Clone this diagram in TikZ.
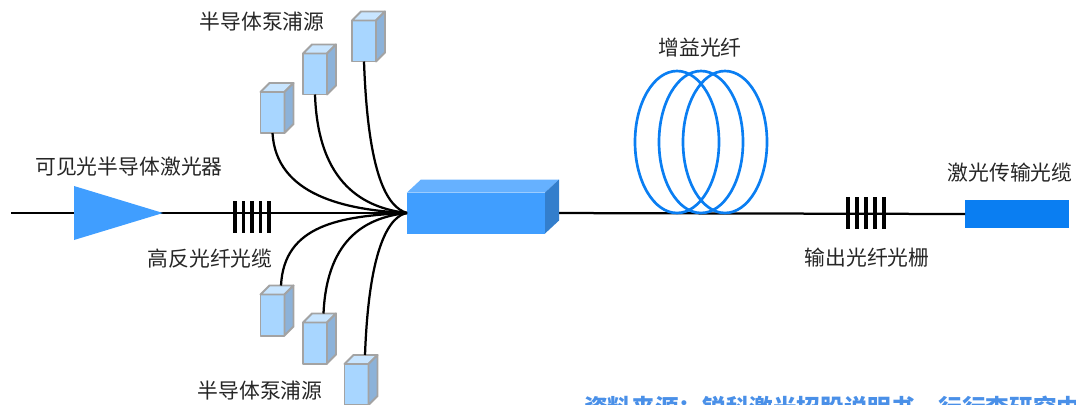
\documentclass[tikz,border=0pt]{standalone}
\usepackage{fontspec}
\setmainfont{Noto Sans CJK SC}
\usepackage{xcolor}
\usepackage{tikz}
\usetikzlibrary{calc}

\definecolor{ldblue}{HTML}{409EFF}
\definecolor{ldtop}{HTML}{66B1FF}
\definecolor{ldside}{HTML}{337ECC}
\definecolor{pumpfront}{HTML}{A8D6FF}
\definecolor{pumptop}{HTML}{C8E5FF}
\definecolor{pumpside}{HTML}{8CB2D9}
\definecolor{pumpedge}{HTML}{A3A3A3}
\definecolor{coilblue}{HTML}{0A7EF2}
\definecolor{srcblue}{HTML}{4A90E8}

\begin{document}
\begin{tikzpicture}[x=0.025cm,y=-0.025cm,
  fiber/.style={line width=1.6pt},
  bar/.style={line width=2.4pt},
  coil/.style={coilblue,line width=1.9pt},
  lbl/.style={font=\fontsize{14.8}{16}\selectfont,text=black!85},
  face/.style={draw=pumpedge,line width=1.4pt,line join=round},
  pump/.style={face,fill=pumpfront,minimum width=0.6cm,minimum height=1.025cm,inner sep=0pt,outer sep=0pt}]

  \useasboundingbox (0,0) rectangle (1076,404);

  % fibre line, combiner, output cable
  \coordinate (src) at (11,213);
  \node[fill=ldblue,minimum width=3.45cm,minimum height=1.025cm,inner sep=0pt,outer sep=0pt] (cb) at (476,213) {};
  \node[fill=coilblue,minimum width=2.6cm,minimum height=0.7cm,inner sep=0pt,outer sep=0pt] (oc) at (1017,214) {};
  \coordinate (jn) at (cb.west);
  \draw[fiber] (src) -- (jn);
  \draw[fiber] (cb.east) -- (oc.west);
  \fill[ldtop] (cb.north west) -- ++(14,-13) -- ($(cb.north east)+(14,-13)$) -- (cb.north east) -- cycle;
  \fill[ldside] (cb.north east) -- ++(14,-13) -- ($(cb.south east)+(14,-13)$) -- (cb.south east) -- cycle;

  % visible diode
  \fill[ldblue] (74,186) -- (163,213) -- (74,240) -- cycle;

  % gratings
  \coordinate (hr) at (252,217);
  \coordinate (og) at (866,213);
  \foreach \i in {-2,...,2}
    {
      \draw[bar] ($(hr)+(\i*8.5,-16)$) -- ++(0,32);
      \draw[bar] ($(og)+(\i*9,-16)$) -- ++(0,32);
    }

  % gain fibre coil
  \foreach \cx in {677,701,725}
    \draw[coil] (\cx,142) ellipse [x radius=42, y radius=71];

  % pump diodes
  \foreach \n/\x/\y in {pa/272.5/112.5, pb/315/74, pc/364/41, pd/272.5/315, pe/315/343, pf/356.5/384.5}
    {
      \node[pump] (\n) at (\x,\y) {};
      \draw[face,fill=pumptop] (\n.north west) -- ++(9,-9) -- ($(\n.north east)+(9,-9)$) -- (\n.north east) -- cycle;
      \draw[face,fill=pumpside] (\n.north east) -- ++(9,-9) -- ($(\n.south east)+(9,-9)$) -- (\n.south east) -- cycle;
    }

  \draw[fiber] (pa.south) .. controls (276,195) and (345,210) .. (jn);
  \draw[fiber] (pb.south) .. controls (318,185) and (365,208) .. (jn);
  \draw[fiber] (pc.south) .. controls (368,175) and (387,207) .. (jn);
  \draw[fiber] ($(pd.north)+(8.5,-9)$) .. controls (284,225) and (340,216) .. (jn);
  \draw[fiber] ($(pe.north)+(8.5,-9)$) .. controls (327,235) and (370,217) .. (jn);
  \draw[fiber] ($(pf.north)+(8.5,-9)$) .. controls (369,245) and (390,216) .. (jn);

  % labels
  \node[lbl] (ldlbl) at (129,167) {可见光半导体激光器};
  \node[lbl] (hrlbl) at (210,259) {高反光纤光缆};
  \node[lbl] (ptlbl) at (262,22) {半导体泵浦源};
  \node[lbl] (pblbl) at (260,391) {半导体泵浦源};
  \node[lbl] (gflbl) at (700,48) {增益光纤};
  \node[lbl] (oglbl) at (867,258) {输出光纤光栅};
  \node[lbl] (oclbl) at (1010,173) {激光传输光缆};
  \node[anchor=west,inner sep=0pt,text=srcblue,font=\fontsize{16.8}{18}\selectfont\bfseries] (srclbl) at (584,408) {资料来源：锐科激光招股说明书，行行查研究中心};

\end{tikzpicture}
\end{document}
